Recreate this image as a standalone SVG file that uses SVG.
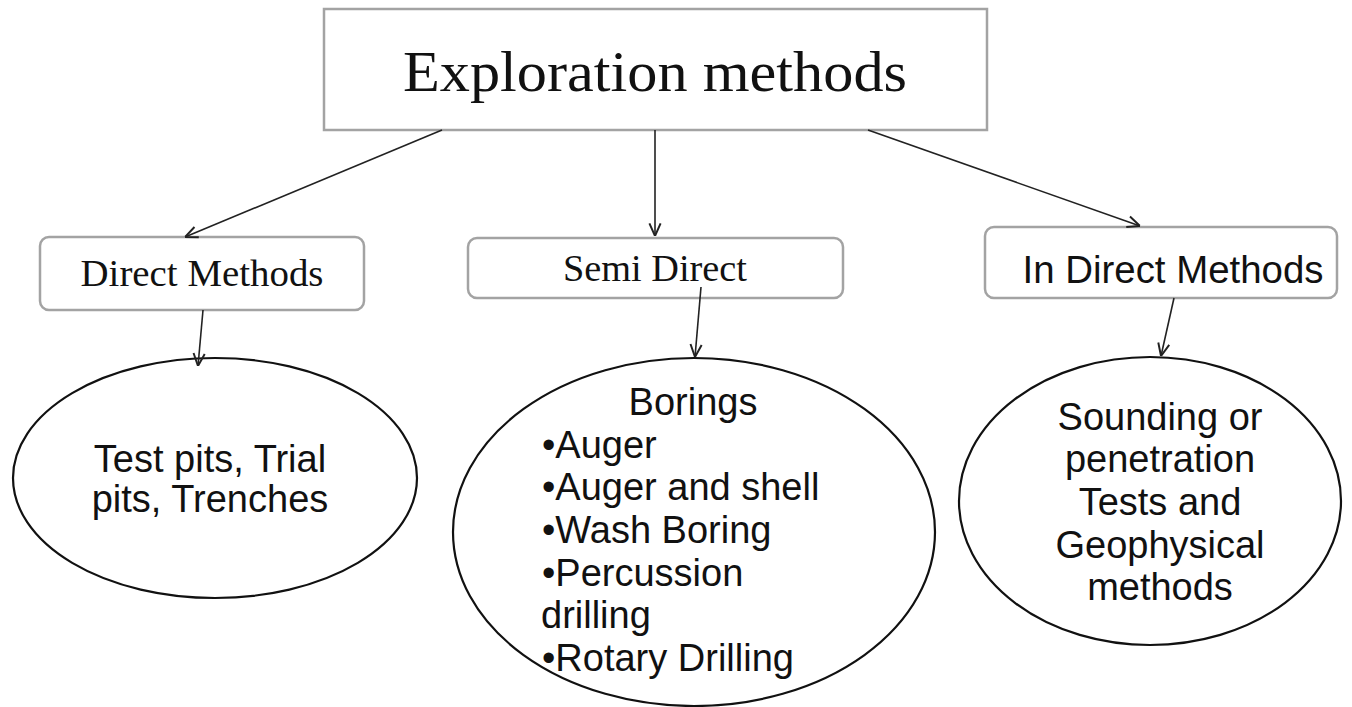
<svg xmlns="http://www.w3.org/2000/svg" width="1352" height="707" viewBox="0 0 1352 707">
<style>
.box{fill:#fff;stroke:#a3a3a3;stroke-width:2.5}
.ell{fill:#fff;stroke:#111;stroke-width:2.2}
.serif{font-family:"Liberation Serif","Times New Roman",serif;fill:#111}
.sans{font-family:"Liberation Sans",Arial,sans-serif;fill:#111;font-size:38px}
.conn{stroke:#222;stroke-width:1.6;fill:none;marker-end:url(#arr)}
</style>
<defs>
<marker id="arr" markerUnits="userSpaceOnUse" markerWidth="14" markerHeight="14" viewBox="0 0 10 10" refX="10" refY="5" orient="auto">
<path d="M1,1 L10,5 L1,9" fill="none" stroke="#222" stroke-width="1.4"/>
</marker>
</defs>
<rect width="1352" height="707" fill="#fff"/>
<g id="root">
<rect class="box" x="324" y="9" width="663" height="121"/>
<text class="serif" x="655" y="91" font-size="58" text-anchor="middle" textLength="504" lengthAdjust="spacingAndGlyphs">Exploration methods</text>
</g>
<g id="direct">
<rect class="box" x="40" y="237" width="324" height="73" rx="9"/>
<text class="serif" x="202" y="286" font-size="37" text-anchor="middle" textLength="243" lengthAdjust="spacingAndGlyphs">Direct Methods</text>
</g>
<g id="semi">
<rect class="box" x="468" y="238" width="375" height="60" rx="9"/>
<text class="serif" x="655" y="281" font-size="37" text-anchor="middle" textLength="184" lengthAdjust="spacingAndGlyphs">Semi Direct</text>
</g>
<g id="indirect">
<rect class="box" x="985" y="227" width="352" height="71" rx="9"/>
<text class="sans" x="1173" y="283" text-anchor="middle" textLength="301" lengthAdjust="spacingAndGlyphs">In Direct Methods</text>
</g>
<g id="pits">
<ellipse class="ell" cx="215" cy="478" rx="202" ry="120"/>
<text class="sans" text-anchor="middle"><tspan x="210" y="472">Test pits, Trial</tspan><tspan x="210" y="512">pits, Trenches</tspan></text>
</g>
<g id="borings">
<ellipse class="ell" cx="694" cy="532" rx="241" ry="174"/>
<text class="sans" x="693" y="415" text-anchor="middle">Borings</text>
<text class="sans"><tspan x="542" y="458">•Auger</tspan><tspan x="542" y="500">•Auger and shell</tspan><tspan x="542" y="543">•Wash Boring</tspan><tspan x="542" y="586">•Percussion</tspan><tspan x="541" y="628">drilling</tspan><tspan x="542" y="671">•Rotary Drilling</tspan></text>
</g>
<g id="sounding">
<ellipse class="ell" cx="1150" cy="501" rx="191" ry="144"/>
<text class="sans" text-anchor="middle"><tspan x="1160" y="430">Sounding or</tspan><tspan x="1160" y="472">penetration</tspan><tspan x="1160" y="515">Tests and</tspan><tspan x="1160" y="558">Geophysical</tspan><tspan x="1160" y="600">methods</tspan></text>
</g>
<g id="connectors">
<line class="conn" x1="442" y1="130" x2="185" y2="237"/>
<line class="conn" x1="655" y1="130" x2="655" y2="236"/>
<line class="conn" x1="868" y1="130" x2="1140" y2="226"/>
<line class="conn" x1="203" y1="310" x2="198" y2="366"/>
<line class="conn" x1="701" y1="287" x2="695" y2="357"/>
<line class="conn" x1="1174" y1="298" x2="1161" y2="356"/>
</g>
</svg>
